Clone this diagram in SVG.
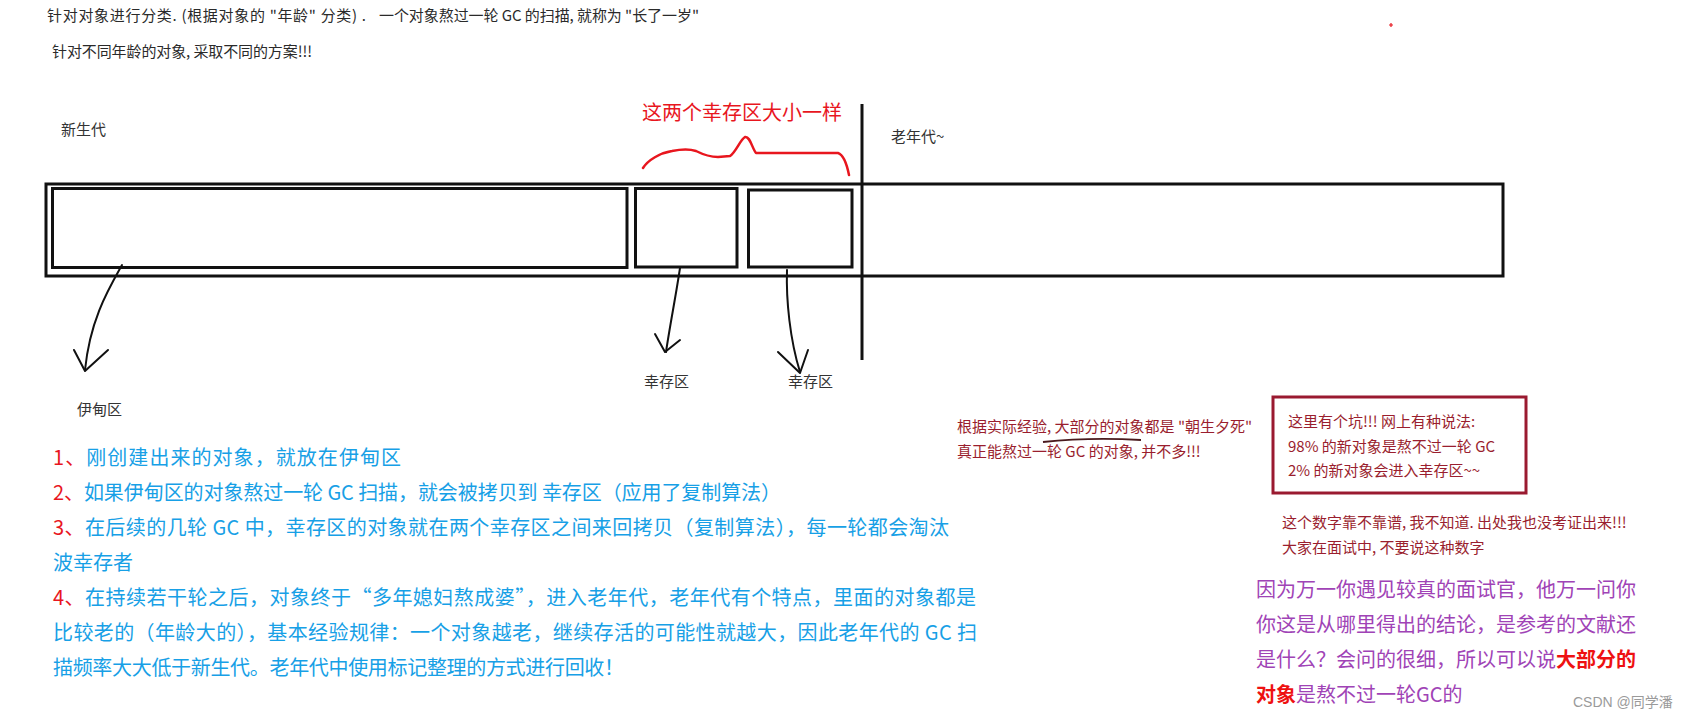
<svg xmlns="http://www.w3.org/2000/svg" width="1687" height="717" viewBox="0 0 1687 717">
<style>
  text { font-family: "Noto Sans CJK SC", "Noto Sans", sans-serif; }
  .note { font-size: 15px; fill: #2a2a2a; }
  .lbl { font-size: 15px; fill: #333; }
  .red20 { font-size: 20px; fill: #e8161e; }
  .blue { font-size: 20px; fill: #17a0e6; }
  .num { fill: #e8161e; }
  .maroon { font-size: 15px; fill: #9a1e2e; }
  .purple { font-size: 20px; fill: #a043b6; }
  .bold { fill: #ee1111; font-weight: bold; }
  .box { fill: none; stroke: #111; stroke-width: 3; }
  .pen { fill: none; stroke: #111; stroke-width: 2; stroke-linecap: round; stroke-linejoin: round; }
  .redpen { fill: none; stroke: #e8161e; stroke-width: 2.5; stroke-linecap: round; stroke-linejoin: round; }
</style>
<rect x="0" y="0" width="1687" height="717" fill="#ffffff"/>

<g id="header">
  <text class="note" x="47" y="21" textLength="319">针对对象进行分类. (根据对象的 "年龄" 分类) .</text>
  <text class="note" x="379" y="21" textLength="320">一个对象熬过一轮 GC 的扫描, 就称为 "长了一岁"</text>
  <text class="note" x="52" y="57" textLength="260">针对不同年龄的对象, 采取不同的方案!!!</text>
</g>

<g id="heap">
  <rect class="box" x="46" y="184" width="1457" height="92"/>
  <line x1="862" y1="104" x2="862" y2="360" stroke="#111" stroke-width="3"/>
  <text class="lbl" x="61" y="135">新生代</text>
  <text class="lbl" x="891" y="142">老年代~</text>
</g>

<g id="eden">
  <rect class="box" x="52.5" y="188.5" width="574.5" height="79"/>
  <text class="lbl" x="77" y="415">伊甸区</text>
</g>

<g id="survivor1">
  <rect class="box" x="635.5" y="188.5" width="101.5" height="78.5"/>
  <text class="lbl" x="644" y="387">幸存区</text>
</g>

<g id="survivor2">
  <rect class="box" x="748.5" y="190" width="103.5" height="77"/>
  <text class="lbl" x="788" y="387">幸存区</text>
</g>

<g id="same-size-note">
  <text class="red20" x="642" y="120">这两个幸存区大小一样</text>
  <path class="redpen" d="M643,168 C648,160 660,153 672,151 C682,149 690,149 696,151 C702,154 708,157 718,157 L730,156 C736,152 740,140 745,137 C750,136 752,148 756,153 L838,153 C844,155 847,165 849,175"/>
</g>

<g id="connectors">
  <path class="pen" d="M122,265 C108,290 90,320 85,370"/>
  <polyline class="pen" points="74,350 85,371 108,350"/>
  <path class="pen" d="M680,268 C676,295 670,325 666,352"/>
  <polyline class="pen" points="655,334 665,352 680,340"/>
  <path class="pen" d="M787,270 C786,300 790,340 800,372"/>
  <polyline class="pen" points="778,352 800,373 808,350"/>
</g>

<g id="list">
  <text class="blue" x="53" y="465" textLength="348"><tspan class="num">1、</tspan>刚创建出来的对象，就放在伊甸区</text>
  <text class="blue" x="53" y="500" textLength="728"><tspan class="num">2、</tspan>如果伊甸区的对象熬过一轮 GC 扫描，就会被拷贝到 幸存区（应用了复制算法）</text>
  <text class="blue" x="53" y="535" textLength="896"><tspan class="num">3、</tspan>在后续的几轮 GC 中，幸存区的对象就在两个幸存区之间来回拷贝（复制算法），每一轮都会淘汰</text>
  <text class="blue" x="53" y="570">波幸存者</text>
  <text class="blue" x="53" y="605" textLength="923"><tspan class="num">4、</tspan>在持续若干轮之后，对象终于“多年媳妇熬成婆”，进入老年代，老年代有个特点，里面的对象都是</text>
  <text class="blue" x="53" y="640" textLength="924">比较老的（年龄大的），基本经验规律：一个对象越老，继续存活的可能性就越大，因此老年代的 GC 扫</text>
  <text class="blue" x="53" y="675" textLength="571">描频率大大低于新生代。老年代中使用标记整理的方式进行回收！</text>
</g>

<g id="experience-note">
  <text class="maroon" x="957" y="432">根据实际经验, 大部分的对象都是 "朝生夕死"</text>
  <text class="maroon" x="957" y="457">真正能熬过一轮 GC 的对象, 并不多!!!</text>
  <path d="M1043,442 Q1090,437 1141,440" fill="none" stroke="#4a1a1e" stroke-width="2"/>
</g>

<g id="pitfall-box">
  <rect x="1273" y="397" width="253" height="96" fill="none" stroke="#9a1a30" stroke-width="3"/>
  <text class="maroon" x="1288" y="427">这里有个坑!!! 网上有种说法:</text>
  <text class="maroon" x="1288" y="452">98% 的新对象是熬不过一轮 GC</text>
  <text class="maroon" x="1288" y="476">2% 的新对象会进入幸存区~~</text>
</g>

<g id="warning-note">
  <text class="maroon" x="1282" y="528">这个数字靠不靠谱, 我不知道. 出处我也没考证出来!!!</text>
  <text class="maroon" x="1282" y="553">大家在面试中, 不要说这种数字</text>
</g>

<g id="interviewer-note">
  <text class="purple" x="1256" y="597">因为万一你遇见较真的面试官，他万一问你</text>
  <text class="purple" x="1256" y="632">你这是从哪里得出的结论，是参考的文献还</text>
  <text class="purple" x="1256" y="667">是什么？会问的很细，所以可以说<tspan class="bold">大部分的</tspan></text>
  <text class="purple" x="1256" y="702"><tspan class="bold">对象</tspan>是熬不过一轮GC的</text>
</g>

<g id="marks">
  <path d="M1389,25 h4 M1391,23 v4" stroke="#e8161e" stroke-width="1.2"/>
  <text x="1573" y="707" font-size="14" fill="#9a9a9a" style="font-family: 'Liberation Sans', 'Noto Sans CJK SC', sans-serif;">CSDN @同学潘</text>
</g>
</svg>
